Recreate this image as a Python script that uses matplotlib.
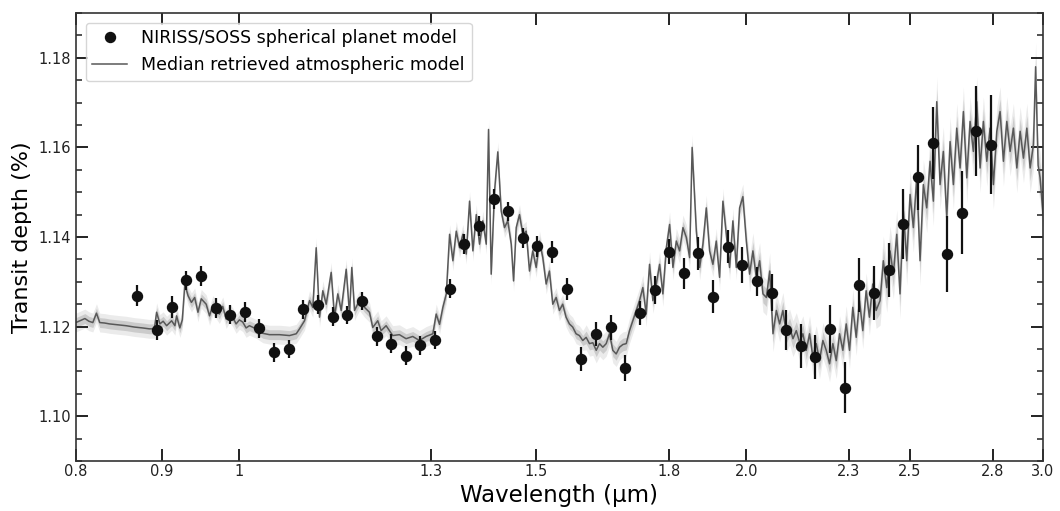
import numpy as np
import matplotlib
matplotlib.use("Agg")
import matplotlib.pyplot as plt
from matplotlib.ticker import FixedLocator, NullLocator, MultipleLocator, FormatStrFormatter

# ---------------- data ----------------
obs_wl = [0.8696, 0.8937, 0.9117, 0.9301, 0.9489, 0.9681, 0.9877, 1.0077, 1.0280, 1.0487,
          1.0699, 1.0915, 1.1136, 1.1361, 1.1590, 1.1824, 1.2064, 1.2308, 1.2556, 1.2809,
          1.3068, 1.3333, 1.3602, 1.3876, 1.4157, 1.4443, 1.4735, 1.5032, 1.5336, 1.5645,
          1.5962, 1.6284, 1.6613, 1.6949, 1.7292, 1.7641, 1.7997, 1.8361, 1.8732, 1.9110,
          1.9496, 1.9890, 2.0292, 2.0702, 2.1120, 2.1546, 2.1982, 2.2426, 2.2879, 2.3341,
          2.3813, 2.4293, 2.4784, 2.5285, 2.5796, 2.6317, 2.6849, 2.7391, 2.7944]
obs_depth = [1.1269, 1.1193, 1.1244, 1.1303, 1.1313, 1.1242, 1.1227, 1.1232, 1.1196, 1.1143,
             1.1150, 1.1239, 1.1249, 1.1222, 1.1226, 1.1257, 1.1178, 1.1162, 1.1135, 1.1158,
             1.1170, 1.1285, 1.1385, 1.1424, 1.1485, 1.1457, 1.1398, 1.1379, 1.1367, 1.1284,
             1.1128, 1.1184, 1.1198, 1.1107, 1.1231, 1.1282, 1.1367, 1.1319, 1.1364, 1.1267,
             1.1378, 1.1337, 1.1301, 1.1276, 1.1192, 1.1157, 1.1132, 1.1195, 1.1064, 1.1293,
             1.1275, 1.1327, 1.1429, 1.1533, 1.1610, 1.1362, 1.1454, 1.1636, 1.1606]
obs_err = [0.0023, 0.0022, 0.0025, 0.0022, 0.0022, 0.0022, 0.0021, 0.0022, 0.0021, 0.0021,
           0.0021, 0.0021, 0.0021, 0.0021, 0.0021, 0.0021, 0.0021, 0.0021, 0.0021, 0.0021,
           0.0021, 0.0022, 0.0022, 0.0022, 0.0022, 0.0022, 0.0022, 0.0023, 0.0024, 0.0025,
           0.0027, 0.0027, 0.0027, 0.0029, 0.0027, 0.0031, 0.0028, 0.0035, 0.0037, 0.0036,
           0.0037, 0.0040, 0.0032, 0.0042, 0.0044, 0.0049, 0.0049, 0.0053, 0.0056, 0.0060,
           0.0060, 0.0060, 0.0078, 0.0073, 0.0080, 0.0085, 0.0093, 0.0100, 0.0110]

model_wl = [0.7934, 0.8010, 0.8065, 0.8098, 0.8142, 0.8186, 0.8227, 0.8264, 0.8319, 0.8375,
            0.8467, 0.8567, 0.8664, 0.8763, 0.8843, 0.8904,
            0.8932, 0.8972, 0.9012, 0.9055, 0.9117, 0.9158, 0.9179, 0.9220, 0.9251, 0.9283,
            0.9324, 0.9367, 0.9409, 0.9451, 0.9494, 0.9558, 0.9602, 0.9645, 0.9689, 0.9732,
            0.9777, 0.9822, 0.9867, 0.9911,
            0.9957, 1.0002, 1.0048, 1.0094, 1.0140, 1.0233, 1.0327, 1.0422, 1.0565, 1.0711,
            1.0810, 1.0859, 1.0933, 1.1008, 1.1058, 1.1109, 1.1159, 1.1210, 1.1262, 1.1339,
            1.1390, 1.1442, 1.1495, 1.1574, 1.1626, 1.1663, 1.1706, 1.1786, 1.1867, 1.1948,
            1.2002, 1.2084, 1.2140, 1.2223, 1.2334, 1.2447, 1.2561, 1.2676, 1.2792, 1.2910,
            1.3029, 1.3089, 1.3149, 1.3209, 1.3271, 1.3331, 1.3391, 1.3453, 1.3514, 1.3575,
            1.3638, 1.3700, 1.3762, 1.3826, 1.3888, 1.3950,
            1.4016, 1.4060, 1.4111, 1.4175, 1.4239, 1.4305, 1.4370, 1.4435, 1.4503, 1.4549,
            1.4602, 1.4668, 1.4734, 1.4802, 1.4869, 1.4936,
            1.5006, 1.5074, 1.5142, 1.5212, 1.5280, 1.5350, 1.5421, 1.5490, 1.5560, 1.5632,
            1.5703, 1.5774, 1.5847, 1.5919, 1.5992,
            1.6067, 1.6140, 1.6214, 1.6289, 1.6363, 1.6437, 1.6513, 1.6588, 1.6663, 1.6740,
            1.6816, 1.6893, 1.6972, 1.7048, 1.7125, 1.7205, 1.7283, 1.7361, 1.7441,
            1.7521, 1.7601, 1.7683, 1.7763, 1.7843, 1.7927, 1.8008, 1.8090, 1.8174, 1.8256,
            1.8340, 1.8425, 1.8508,
            1.8571, 1.8678, 1.8763, 1.8847, 1.8934, 1.9020, 1.9106, 1.9194, 1.9281, 1.9369,
            1.9459, 1.9546, 1.9635, 1.9726, 1.9816, 1.9905,
            1.9999, 2.0089, 2.0180, 2.0273, 2.0366, 2.0459, 2.0555, 2.0648, 2.0741, 2.0837,
            2.0931,
            2.1025, 2.1123, 2.1218, 2.1315, 2.1413, 2.1510, 2.1607, 2.1707, 2.1805, 2.1904,
            2.2005,
            2.2104, 2.2205, 2.2308, 2.2409, 2.2510, 2.2615, 2.2717, 2.2820, 2.2925, 2.3029,
            2.3132, 2.3240, 2.3344, 2.3450, 2.3558, 2.3664, 2.3771, 2.3881,
            2.4010, 2.4118, 2.4231, 2.4340, 2.4450, 2.4564, 2.4674, 2.4786, 2.4902, 2.5015,
            2.5128, 2.5245, 2.5359, 2.5474, 2.5592, 2.5708, 2.5825, 2.5945, 2.6062, 2.6180,
            2.6301, 2.6421, 2.6541, 2.6664, 2.6785, 2.6907, 2.7031, 2.7154, 2.7276, 2.7403,
            2.7528, 2.7652, 2.7781, 2.7907, 2.8033, 2.8164, 2.8291, 2.8420, 2.8552, 2.8682,
            2.8811, 2.8946, 2.9077, 2.9209, 2.9345, 2.9477, 2.9610, 2.9699, 2.9800, 2.9882,
            3.0000]
model_depth = [1.1207, 1.1210, 1.1215, 1.1218, 1.1212, 1.1209, 1.1230, 1.1209, 1.1208, 1.1206,
               1.1204, 1.1202, 1.1199, 1.1197, 1.1195, 1.1195,
               1.1232, 1.1206, 1.1212, 1.1202, 1.1213, 1.1202, 1.1224, 1.1197, 1.1215, 1.1295,
               1.1269, 1.1254, 1.1265, 1.1232, 1.1262, 1.1250, 1.1224, 1.1248, 1.1239, 1.1228,
               1.1245, 1.1217, 1.1230, 1.1221,
               1.1206, 1.1215, 1.1210, 1.1197, 1.1202, 1.1195, 1.1185, 1.1182, 1.1182, 1.1180,
               1.1184, 1.1195, 1.1213, 1.1258, 1.1243, 1.1376, 1.1221, 1.1280, 1.1250, 1.1321,
               1.1221, 1.1273, 1.1236, 1.1328, 1.1228, 1.1332, 1.1236, 1.1258, 1.1243, 1.1232,
               1.1198, 1.1213, 1.1191, 1.1202, 1.1180, 1.1182, 1.1173, 1.1178, 1.1169, 1.1178,
               1.1184, 1.1228, 1.1205, 1.1243, 1.1273, 1.1406, 1.1347, 1.1413, 1.1376, 1.1406,
               1.1362, 1.1480, 1.1369, 1.1450, 1.1384, 1.1436,
               1.1384, 1.1640, 1.1317, 1.1502, 1.1590, 1.1458, 1.1421, 1.1436, 1.1384, 1.1302,
               1.1421, 1.1450, 1.1406, 1.1413, 1.1324, 1.1369,
               1.1332, 1.1391, 1.1354, 1.1295, 1.1324, 1.1250, 1.1265, 1.1236, 1.1250, 1.1221,
               1.1206, 1.1199, 1.1184, 1.1180, 1.1169,
               1.1176, 1.1162, 1.1164, 1.1147, 1.1162, 1.1154, 1.1162, 1.1184, 1.1147, 1.1139,
               1.1154, 1.1160, 1.1162, 1.1191, 1.1213, 1.1236, 1.1258, 1.1287, 1.1228,
               1.1339, 1.1258, 1.1295, 1.1339, 1.1273, 1.1376, 1.1428, 1.1332, 1.1391, 1.1369,
               1.1421, 1.1399, 1.1354,
               1.1600, 1.1413, 1.1332, 1.1384, 1.1465, 1.1369, 1.1339, 1.1391, 1.1310, 1.1480,
               1.1406, 1.1332, 1.1436, 1.1332, 1.1465, 1.1490,
               1.1391, 1.1317, 1.1369, 1.1310, 1.1347, 1.1273, 1.1265, 1.1324, 1.1184, 1.1236,
               1.1206,
               1.1236, 1.1184, 1.1199, 1.1173, 1.1191, 1.1165, 1.1184, 1.1147, 1.1184, 1.1132,
               1.1162,
               1.1124, 1.1169, 1.1147, 1.1117, 1.1162, 1.1124, 1.1184, 1.1147, 1.1206, 1.1147,
               1.1243, 1.1176, 1.1258, 1.1191, 1.1280, 1.1221, 1.1295, 1.1236,
               1.1258, 1.1347, 1.1287, 1.1369, 1.1317, 1.1406, 1.1273, 1.1458, 1.1347, 1.1495,
               1.1421, 1.1532, 1.1347, 1.1517, 1.1465, 1.1569, 1.1480, 1.1702, 1.1517, 1.1591,
               1.1443, 1.1613, 1.1517, 1.1643, 1.1554, 1.1680, 1.1532, 1.1658, 1.1591, 1.1702,
               1.1554, 1.1658, 1.1569, 1.1643, 1.1517, 1.1636, 1.1680, 1.1569, 1.1658, 1.1591,
               1.1643, 1.1554, 1.1636, 1.1576, 1.1643, 1.1554, 1.1606, 1.1780, 1.1560, 1.1532,
               1.1450]

# uncertainty band half-widths, read per wavelength range
band_edges = [0.78, 1.10, 1.60, 2.00, 2.40, 3.01]
band_1sig = [0.0011, 0.0011, 0.0014, 0.0020, 0.0028]
band_2sig = [0.0021, 0.0022, 0.0028, 0.0040, 0.0055]

xtick_vals = [0.8, 0.9, 1.0, 1.3, 1.5, 1.8, 2.0, 2.3, 2.5, 2.8, 3.0]
xtick_labels = ["0.8", "0.9", "1", "1.3", "1.5", "1.8", "2.0", "2.3", "2.5", "2.8", "3.0"]

# ---------------- plot ----------------
wl = np.array(model_wl)
dep = np.array(model_depth)
seg = np.clip(np.searchsorted(band_edges, wl, side="right") - 1, 0, len(band_1sig) - 1)
s1 = np.array(band_1sig)[seg]
s2 = np.array(band_2sig)[seg]

fig = plt.figure(figsize=(10.6, 5.11), dpi=100)
ax = fig.add_axes([76 / 1060, 50 / 511, 967 / 1060, 448 / 511])

ax.fill_between(wl, dep - s2, dep + s2, color="#ebebeb", lw=0, zorder=1)
ax.fill_between(wl, dep - s1, dep + s1, color="#cbcbcb", lw=0, zorder=1.5)
ax.plot(wl, dep, color="#585858", lw=1.1, zorder=2, label="Median retrieved atmospheric model")

ax.errorbar(obs_wl, obs_depth, yerr=obs_err, fmt="none", ecolor="#111111", elinewidth=1.6,
            capsize=0, zorder=3)
ax.plot(obs_wl, obs_depth, "o", color="#111111", ms=7.2, zorder=4,
        label="NIRISS/SOSS spherical planet model")

ax.set_xscale("log")
ax.set_xlim(0.8, 3.0)
ax.set_ylim(1.09, 1.19)
ax.xaxis.set_major_locator(FixedLocator(xtick_vals))
ax.set_xticklabels(xtick_labels)
ax.xaxis.set_minor_locator(NullLocator())
ax.yaxis.set_major_locator(MultipleLocator(0.02))
ax.yaxis.set_minor_locator(MultipleLocator(0.005))
ax.yaxis.set_major_formatter(FormatStrFormatter("%.2f"))

ax.tick_params(which="both", direction="in", top=True, right=True, colors="#222222")
ax.tick_params(which="major", length=8.5, width=1.4, labelsize=10.5)
ax.tick_params(which="minor", length=4.5, width=1.1)
ax.tick_params(axis="x", which="major", pad=2.5)
ax.tick_params(axis="y", which="major", pad=3.5)
for sp in ax.spines.values():
    sp.set_linewidth(1.2)
    sp.set_color("#333333")

ax.set_xlabel("Wavelength (μm)", fontsize=16.5, labelpad=3)
ax.set_ylabel("Transit depth (%)", fontsize=16, labelpad=5)

handles, labels = ax.get_legend_handles_labels()
ax.legend(handles[::-1], labels[::-1], loc="upper left", fontsize=12.5,
          borderaxespad=0.55, handlelength=2.0, frameon=True)

fig.savefig("out.png", dpi=100)
